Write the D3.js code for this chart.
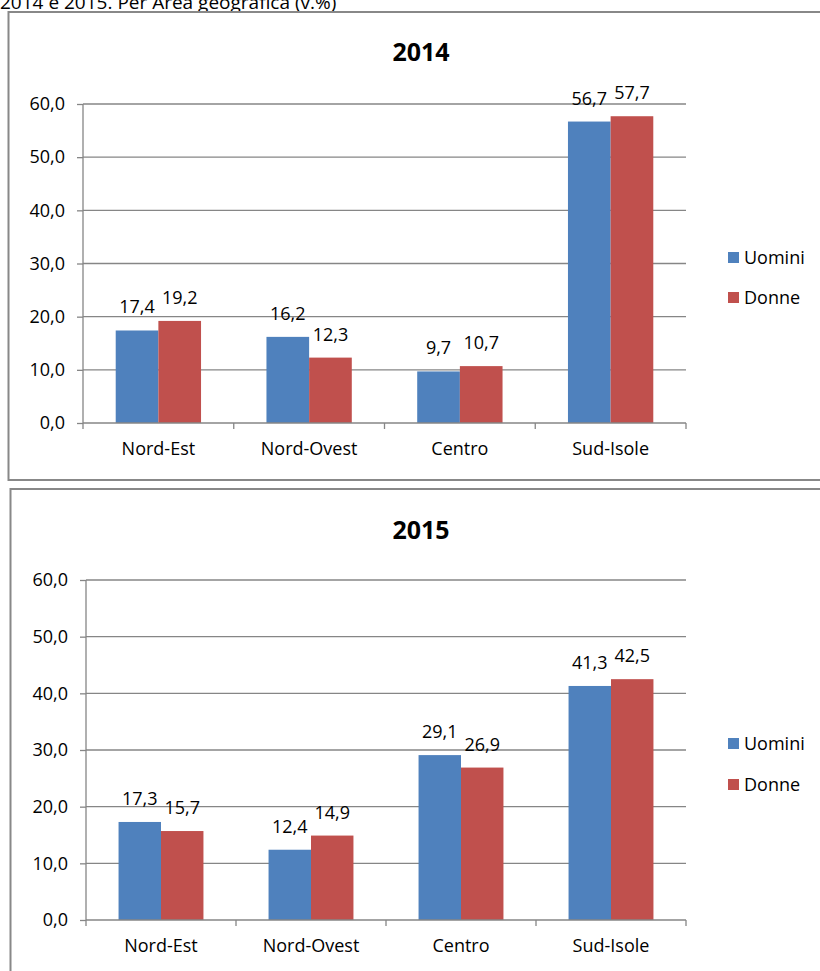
<!DOCTYPE html>
<html>
<head>
<meta charset="utf-8">
<script src="https://cdn.jsdelivr.net/npm/d3@7.9.0/dist/d3.min.js"></script>
<style>
  body { margin: 0; background: #fff; }
  svg { display: block; font-family: "Open Sans", sans-serif; }
</style>
</head>
<body>
<svg id="chart" width="820" height="971"></svg>
<script>
// data
const categories = ['Nord-Est', 'Nord-Ovest', 'Centro', 'Sud-Isole'];
const series = ['Uomini', 'Donne'];
const uomini2014 = [17.4, 16.2, 9.7, 56.7];
const donne2014 = [19.2, 12.3, 10.7, 57.7];
const uomini2015 = [17.3, 12.4, 29.1, 41.3];
const donne2015 = [15.7, 14.9, 26.9, 42.5];
const yTicks = [0, 10, 20, 30, 40, 50, 60];

const COLORS = ['#4F81BD', '#C0504D'];
const GRID = '#868686';
const FS = '18px';
const fmt = v => v.toFixed(1).replace('.', ',');

const svg = d3.select('#chart');

// header line, cut at the top of the page
svg.append('text')
  .attr('x', 0).attr('y', 9)
  .style('font-size', '19px')
  .text('2014 e 2015. Per Area geografica (v.%)');

const panels = [
  { title: '2014', u: uomini2014, d: donne2014,
    frame: [8.5, 12, 830, 468], x: [83, 686], y: [423, 104], titleY: 61, legendY: [258, 298] },
  { title: '2015', u: uomini2015, d: donne2015,
    frame: [10.5, 489, 830, 500], x: [86, 686], y: [920, 580], titleY: 539, legendY: [744, 785] }
];

panels.forEach(p => {
  const g = svg.append('g');

  g.append('rect')
    .attr('x', p.frame[0]).attr('y', p.frame[1])
    .attr('width', p.frame[2]).attr('height', p.frame[3])
    .attr('fill', 'none').attr('stroke', '#888').attr('stroke-width', 2);

  g.append('text')
    .attr('x', 421).attr('y', p.titleY)
    .attr('text-anchor', 'middle')
    .style('font-size', '25px').style('font-weight', 'bold')
    .text(p.title);

  const x = d3.scaleBand().domain(categories).range(p.x);
  const y = d3.scaleLinear().domain([0, 60]).range(p.y);

  // gridlines
  g.selectAll('.grid')
    .data(yTicks.filter(t => t > 0))
    .join('line')
    .attr('x1', p.x[0]).attr('x2', p.x[1])
    .attr('y1', d => y(d)).attr('y2', d => y(d))
    .attr('stroke', GRID).attr('stroke-width', 1.3);

  // y axis
  const yAxis = g.append('g')
    .attr('transform', `translate(${p.x[0]},0)`)
    .call(d3.axisLeft(y).tickValues(yTicks).tickFormat(fmt).tickSize(6).tickPadding(12));
  yAxis.select('.domain').attr('stroke', GRID).attr('stroke-width', 1.3).attr('d', `M0,${p.y[1]}V${p.y[0]}`);
  yAxis.selectAll('.tick line').attr('stroke', GRID).attr('stroke-width', 1.3);
  yAxis.selectAll('.tick text').style('font-size', FS).attr('fill', '#000')
    .style('font-family', '"Open Sans", sans-serif');

  // bars
  const bw = x.bandwidth() * 0.283;
  const sub = d3.scaleBand().domain(series).range([x.bandwidth() / 2 - bw, x.bandwidth() / 2 + bw]);
  const vals = [p.u, p.d];

  series.forEach((s, si) => {
    g.selectAll(`.bar${si}`)
      .data(categories)
      .join('rect')
      .attr('x', (c) => x(c) + sub(s))
      .attr('y', (c, i) => y(vals[si][i]))
      .attr('width', sub.bandwidth())
      .attr('height', (c, i) => y(0) - y(vals[si][i]))
      .attr('fill', COLORS[si]);

    g.selectAll(`.lab${si}`)
      .data(categories)
      .join('text')
      .attr('x', (c) => x(c) + sub(s) + sub.bandwidth() / 2)
      .attr('y', (c, i) => y(vals[si][i]) - 17)
      .attr('text-anchor', 'middle')
      .style('font-size', FS)
      .text((c, i) => fmt(vals[si][i]));
  });

  // x axis
  const xAxis = g.append('g')
    .attr('transform', `translate(0,${p.y[0]})`)
    .call(d3.axisBottom(x).tickSize(0).tickPadding(19));
  xAxis.select('.domain').attr('stroke', GRID).attr('stroke-width', 1.3).attr('d', `M${p.x[0]},0H${p.x[1]}`);
  xAxis.selectAll('.tick text').style('font-size', FS).attr('fill', '#000')
    .style('font-family', '"Open Sans", sans-serif');
  g.selectAll('.xtick')
    .data(categories.concat([null]))
    .join('line')
    .attr('x1', c => c === null ? p.x[1] : x(c))
    .attr('x2', c => c === null ? p.x[1] : x(c))
    .attr('y1', p.y[0]).attr('y2', p.y[0] + 6)
    .attr('stroke', GRID).attr('stroke-width', 1.3);

  // legend
  series.forEach((s, si) => {
    g.append('rect')
      .attr('x', 728).attr('y', p.legendY[si] - 6)
      .attr('width', 11).attr('height', 11)
      .attr('fill', COLORS[si]);
    g.append('text')
      .attr('x', 744).attr('y', p.legendY[si] + 6)
      .style('font-size', FS)
      .text(s);
  });
});
</script>
</body>
</html>
